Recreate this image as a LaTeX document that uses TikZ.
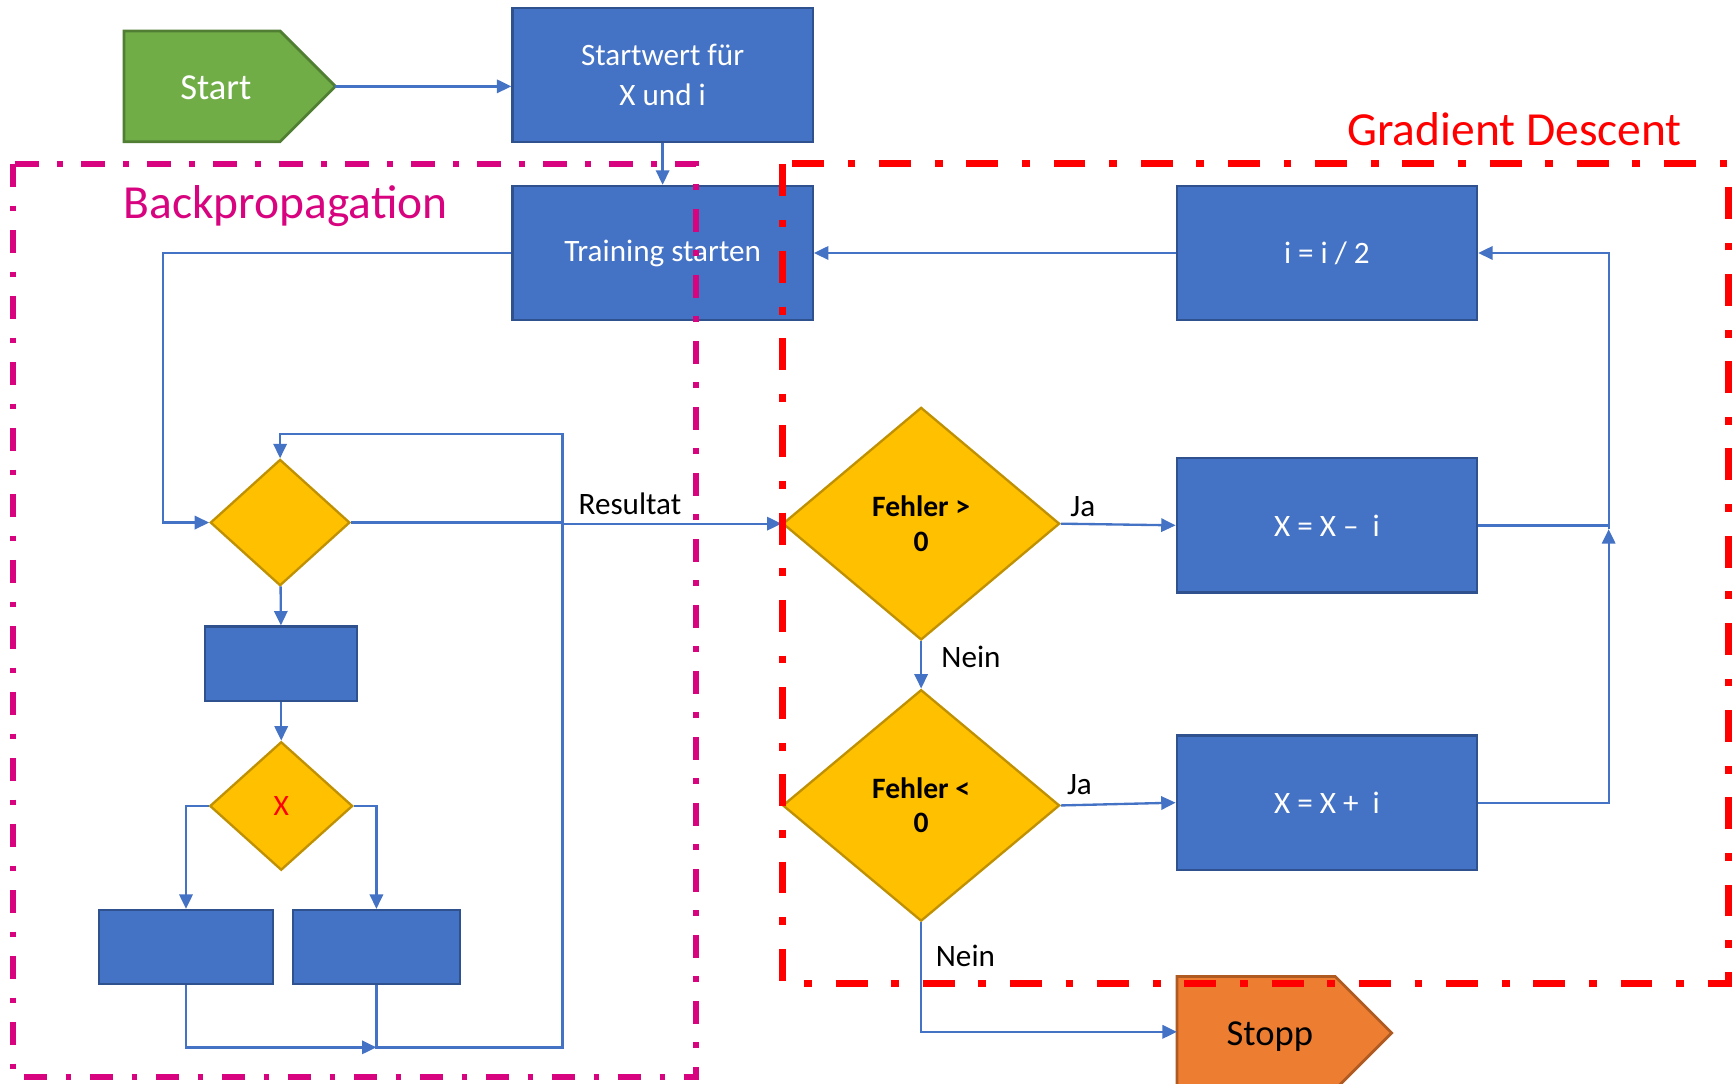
\documentclass[tikz,border=0pt]{standalone}
\usepackage{fontspec}
\setmainfont{Carlito}
\usetikzlibrary{arrows.meta,shapes.geometric}

\definecolor{boxblue}{HTML}{4472C4}
\definecolor{boxedge}{HTML}{2F528F}
\definecolor{decfill}{HTML}{FFC000}
\definecolor{decedge}{HTML}{BF9000}
\definecolor{startfill}{HTML}{70AD47}
\definecolor{startedge}{HTML}{507E32}
\definecolor{stopfill}{HTML}{ED7D31}
\definecolor{stopedge}{HTML}{AE5A21}
\definecolor{linkblue}{HTML}{4472C4}
\definecolor{bpcol}{HTML}{D8047F}
\definecolor{gdcol}{HTML}{FF0000}

\tikzset{
  box/.style={rectangle, fill=boxblue, draw=boxedge, line width=0.6pt,
    minimum width=2.71cm, minimum height=1.21cm, inner sep=0pt,
    text=white, align=center, font=\fontsize{8}{10.2}\selectfont},
  dec/.style={diamond, fill=decfill, draw=decedge, line width=0.6pt,
    inner sep=0pt, align=center, font=\bfseries\fontsize{7.6}{8.8}\selectfont},
  flow/.style={draw=linkblue, line width=0.6pt, -{Triangle[length=0.13cm,width=0.12cm]}},
  link/.style={draw=linkblue, line width=0.6pt},
  lbl/.style={inner sep=0pt, text=black, font=\fontsize{8}{10}\selectfont},
  bpframe/.style={draw=bpcol, line width=1.55pt,
    dash pattern=on 6pt off 4.75pt on 1.45pt off 4.75pt},
  gdframe/.style={draw=gdcol, line width=1.75pt,
    dash pattern=on 8.2pt off 6.1pt on 2pt off 6.1pt},
}

\begin{document}
\begin{tikzpicture}[x=0.01cm, y=-0.01cm]
\useasboundingbox (0,0) rectangle (1568,979);

% start and stop terminals
\path[fill=startfill, draw=startedge, line width=0.7pt]
  (112,28) -- (253,28) -- (303,78) -- (253,128) -- (112,128) -- cycle;
\node[text=white, inner sep=0pt, font=\fontsize{9.4}{11}\selectfont] (start) at (195,79) {Start};
\coordinate (starttip) at (303,78);

\path[fill=stopfill, draw=stopedge, line width=0.7pt]
  (1063,882) -- (1206,882) -- (1257,933) -- (1206,984) -- (1063,984) -- cycle;
\node[text=black, inner sep=0pt, font=\fontsize{9.4}{11}\selectfont] (stopp) at (1147,936) {Stopp};
\coordinate (stoppin) at (1063,932);

% process boxes
\node[box] (sw)   at (598.5,68)    {Startwert für\\X und i};
\node[box] (ts)   at (598.5,228.5) {Training starten};
\node[box] (half) at (1198.5,228.5) {i = i / 2};
\node[box] (xm)   at (1198.5,474.5) {X = X –\ \ i};
\node[box] (xp)   at (1198.5,725)  {X = X +\ \ i};

% decisions of the gradient descent
\node[dec, minimum width=2.5cm, minimum height=2.1cm] (f1) at (832,473)   {Fehler >\\0};
\node[dec, minimum width=2.5cm, minimum height=2.09cm] (f2) at (832,727.5) {Fehler <\\0};

% backpropagation block
\node[dec, minimum width=1.26cm, minimum height=1.14cm] (d1) at (253,472) {};
\node[box, minimum width=1.37cm, minimum height=0.67cm] (b1) at (254,599.5) {};
\node[dec, minimum width=1.29cm, minimum height=1.16cm, font=\fontsize{7.6}{8.8}\selectfont, text=red] (d2) at (254,728) {X};
\node[box, minimum width=1.57cm, minimum height=0.67cm] (b2) at (168,855.5) {};
\node[box, minimum width=1.51cm, minimum height=0.67cm] (b3) at (340,855.5) {};

% bend points
\coordinate (lx)    at (147,0);
\coordinate (loopr) at (508,392);
\coordinate (join)  at (340,946);
\coordinate (rx)    at (1453,478);

% connectors
\draw[flow] (starttip) -- (starttip -| sw.west);
\draw[flow] (sw) -- (ts);
\draw[flow] (half) -- (ts);
\draw[flow] (ts.west) -- (ts.west -| lx) |- (d1.west);
\draw[flow] (d1) -- (b1);
\draw[flow] (b1) -- (d2);
\draw[flow] (d2.west) -| (b2.north);
\draw[flow] (d2.east) -| (b3.north);
\draw[flow] (b2.south) |- (join);
\draw[flow] (b3.south) |- (loopr |- join) -- (loopr) -| (d1.north);
\draw[flow] (d1.east) -- (d1.east -| loopr) |- (f1.west);
\node[lbl] (res) at (569,455) {Resultat};

\draw[flow] (f1.east) -- (xm.west);
\node[lbl] (ja1) at (978,458) {Ja};
\draw[flow] (f1.south) -- (f2.north);
\node[lbl] (nein1) at (877,593) {Nein};
\draw[flow] (f2.east) -- (xp.west);
\node[lbl] (ja2) at (975,709) {Ja};
\draw[flow] (f2.south) |- (stoppin);
\node[lbl] (nein2) at (872,863) {Nein};

\draw[link] (xm.east) -- (xm.east -| rx);
\draw[flow] (xp.east) -| (rx);
\draw[flow] (rx) |- (half.east);

% grouping frames
\draw[bpframe] (12,148) rectangle (629,973);
\draw[gdframe] (707,148) rectangle (1561,888);
\node[text=bpcol, inner sep=0pt, font=\fontsize{12.2}{14}\selectfont] (bplabel) at (258,186) {Backpropagation};
\node[text=gdcol, inner sep=0pt, font=\fontsize{12.2}{14}\selectfont] (gdlabel) at (1368,117) {Gradient Descent};
\end{tikzpicture}
\end{document}
